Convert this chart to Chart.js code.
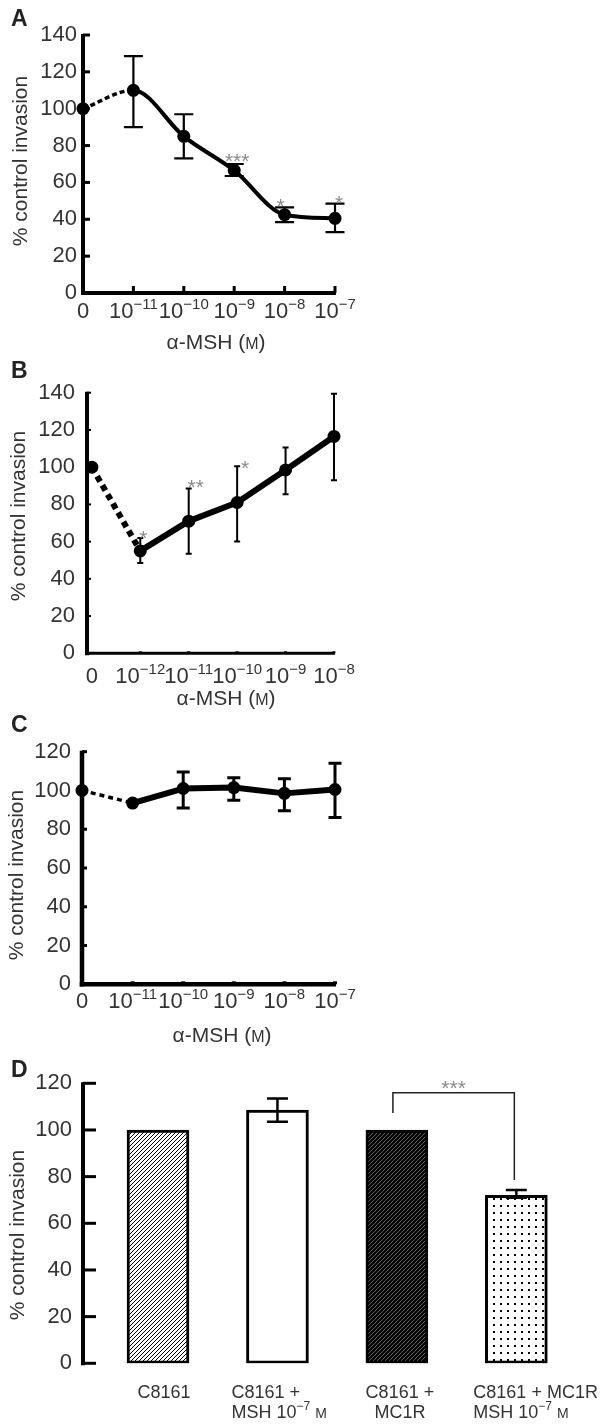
<!DOCTYPE html>
<html>
<head>
<meta charset="utf-8">
<script src="https://cdn.jsdelivr.net/npm/chart.js@4.4.1/dist/chart.umd.min.js"></script>
<style>
  body { margin: 0; background: #fff; }
  #wrap { position: relative; width: 600px; height: 1424px; }
  canvas { position: absolute; left: 0; }
</style>
</head>
<body>
<div id="wrap">
  <canvas id="chartA" width="600" height="355" style="top:0"></canvas>
  <canvas id="chartB" width="600" height="357" style="top:355px"></canvas>
  <canvas id="chartC" width="600" height="336" style="top:712px"></canvas>
  <canvas id="chartD" width="600" height="376" style="top:1048px"></canvas>
</div>
<script>
// ---- data ----
// A : alpha-MSH dose response
const xLabelsA = ['0', '10^-11', '10^-10', '10^-9', '10^-8', '10^-7'];
const xPosA = [0, 1, 2, 3, 4, 5];
const valuesA = [100, 110, 85, 66.5, 42.5, 40.5];
const errHiA = [null, 128.5, 97, 70, 46.5, 48.5];
const errLoA = [null, 90, 73, 63.5, 38.5, 33];
const starsA = ['', '', '', '***', '*', '*'];

// B
const xLabelsB = ['0', '10^-12', '10^-11', '10^-10', '10^-9', '10^-8'];
const xPosB = [0, 1, 2, 3, 4, 5];
const valuesB = [100, 55, 71, 81, 98.5, 116.5];
const errHiB = [null, 62, 88.5, 100.5, 110.5, 139.5];
const errLoB = [null, 48.5, 53.5, 60, 85.5, 93];
const starsB = ['', '*', '**', '*', '', ''];

// C
const xLabelsC = ['0', '10^-11', '10^-10', '10^-9', '10^-8', '10^-7'];
const xPosC = [0, 1, 2, 3, 4, 5];
const valuesC = [100, 93.5, 101, 101.5, 98.5, 100.5];
const errHiC = [null, null, 109.5, 106.5, 106, 114];
const errLoC = [null, null, 91, 95, 89.5, 86];
const starsC = ['', '', '', '', '', ''];

// D : bars
const groupsD = [['C8161'], ['C8161 +', 'MSH 10^-7 {M}'], ['C8161 +', 'MC1R'], ['C8161 + MC1R', 'MSH 10^-7 {M}']];
const valuesD = [100, 108.5, 100, 72];
const errHiD = [null, 113.5, null, 74.3];
const errLoD = [null, 103.5, null, 71];
const bracketD = { from: 2, to: 3, top: 116, leftEnd: 107.3, rightEnd: 78.6, label: '***' };

const FONT = '"Liberation Sans", Arial, Helvetica, sans-serif';
const TXT = '#333';
const STAR = '#8a8a8a';
const TICK = 22;

// text with "^-11" superscripts and "{M}" small capital
function richText(ctx, text, x, y, size, align) {
  const parts = [];
  const re = /\^(-?\d+)|\{(M)\}/g;
  let last = 0, m;
  while ((m = re.exec(text))) {
    if (m.index > last) parts.push({ t: text.slice(last, m.index), s: size, dy: 0 });
    if (m[1]) parts.push({ t: m[1].replace('-', '\u2212'), s: Math.round(size * 0.68), dy: -size * 0.42 });
    else parts.push({ t: 'M', s: Math.round(size * 0.78), dy: 0 });
    last = re.lastIndex;
  }
  if (last < text.length) parts.push({ t: text.slice(last), s: size, dy: 0 });
  let w = 0;
  parts.forEach(p => { ctx.font = p.s + 'px ' + FONT; p.w = ctx.measureText(p.t).width; w += p.w; });
  let cx = align === 'left' ? x : (align === 'right' ? x - w : x - w / 2);
  ctx.textAlign = 'left';
  ctx.textBaseline = 'alphabetic';
  parts.forEach(p => { ctx.font = p.s + 'px ' + FONT; ctx.fillText(p.t, cx, y + p.dy); cx += p.w; });
  return w;
}

function drawStar(ctx, txt, x, y) {
  const size = 21;
  ctx.font = size + 'px ' + FONT;
  ctx.fillStyle = STAR;
  ctx.textAlign = 'center';
  ctx.textBaseline = 'alphabetic';
  ctx.fillText(txt, x, y + size * 0.58);
}

function yTitle(ctx, x, y) {
  ctx.save();
  ctx.translate(x, y);
  ctx.rotate(-Math.PI / 2);
  ctx.font = '21px ' + FONT;
  ctx.fillStyle = TXT;
  ctx.textAlign = 'center';
  ctx.textBaseline = 'middle';
  ctx.fillText('% control invasion', 0, 0);
  ctx.restore();
}

function letter(ctx, l, top) {
  ctx.font = 'bold 23px ' + FONT;
  ctx.fillStyle = '#222';
  ctx.textAlign = 'left';
  ctx.textBaseline = 'top';
  ctx.fillText(l, 11, top);
}

function yAxis(chart, o) {
  const { ctx, chartArea: a } = chart;
  const ys = chart.scales.y;
  ctx.strokeStyle = '#000';
  ctx.lineCap = 'butt';
  ctx.lineWidth = o.axisW;
  ctx.beginPath();
  ctx.moveTo(a.left, ys.getPixelForValue(ys.max) - 1);
  ctx.lineTo(a.left, a.bottom + o.axisW / 2);
  ctx.stroke();
  ctx.lineWidth = o.yTickW;
  ys.ticks.forEach(t => {
    const py = ys.getPixelForValue(t.value);
    ctx.beginPath();
    ctx.moveTo(a.left, py);
    ctx.lineTo(a.left + o.yTickLen, py);
    ctx.stroke();
  });
}

function errorBars(chart, xv, hi, lo, cap, w) {
  const { ctx } = chart;
  const xs = chart.scales.x, ys = chart.scales.y;
  ctx.strokeStyle = '#000';
  ctx.lineWidth = w;
  hi.forEach((h, i) => {
    if (h == null) return;
    const px = xs.getPixelForValue(xv[i]);
    const yt = ys.getPixelForValue(h), yb = ys.getPixelForValue(lo[i]);
    ctx.beginPath();
    ctx.moveTo(px, yt); ctx.lineTo(px, yb);
    ctx.moveTo(px - cap, yt); ctx.lineTo(px + cap, yt);
    ctx.moveTo(px - cap, yb); ctx.lineTo(px + cap, yb);
    ctx.stroke();
  });
}

function linePanel(id, o) {
  const plugin = {
    id: 'deco' + o.letter,
    beforeDatasetsDraw(chart) {
      const { ctx, chartArea: a } = chart;
      const xs = chart.scales.x;
      ctx.save();
      yAxis(chart, o);
      // x axis with inward ticks
      ctx.lineWidth = o.xAxisW;
      ctx.beginPath();
      ctx.moveTo(a.left - o.axisW / 2, a.bottom);
      ctx.lineTo(xs.getPixelForValue(xs.max) + 1, a.bottom);
      ctx.stroke();
      ctx.lineWidth = o.xTickW;
      o.x.forEach((v, i) => {
        if (i === 0) return;
        const px = xs.getPixelForValue(v);
        ctx.beginPath();
        ctx.moveTo(px, a.bottom);
        ctx.lineTo(px, a.bottom - o.xTickLen);
        ctx.stroke();
      });
      errorBars(chart, o.x, o.hi, o.lo, o.cap, o.errW);
      ctx.restore();
    },
    afterDraw(chart) {
      const { ctx } = chart;
      const xs = chart.scales.x, ys = chart.scales.y;
      ctx.save();
      o.labels.forEach((l, i) => {
        ctx.fillStyle = TXT;
        richText(ctx, l, xs.getPixelForValue(o.x[i]), o.labelBase, TICK, 'center');
      });
      ctx.fillStyle = TXT;
      richText(ctx, '\u03b1-MSH ({M})', o.titleX, o.titleBase, 21, 'center');
      yTitle(ctx, o.yTitleX, o.yTitleY);
      letter(ctx, o.letter, o.letterTop);
      o.stars.forEach((s, i) => {
        if (!s) return;
        const top = o.hi[i] != null ? o.hi[i] : o.values[i];
        drawStar(ctx, s, xs.getPixelForValue(o.x[i]) + o.starDx[i], ys.getPixelForValue(top) + o.starDy[i]);
      });
      ctx.restore();
    }
  };
  return new Chart(document.getElementById(id), {
    type: 'line',
    data: {
      datasets: [{
        data: o.x.map((x, i) => ({ x: x, y: o.values[i] })),
        borderColor: '#000',
        borderWidth: o.lineW,
        borderJoinStyle: 'round',
        pointRadius: o.r,
        pointBackgroundColor: '#000',
        pointBorderWidth: 0,
        pointHoverRadius: o.r,
        cubicInterpolationMode: o.smooth ? 'monotone' : 'default',
        tension: o.smooth ? 0.4 : 0,
        clip: false,
        segment: {
          borderDash: c => c.p0DataIndex === 0 ? o.dash : [],
          borderWidth: c => c.p0DataIndex === 0 ? o.dashW : o.lineW
        }
      }]
    },
    options: {
      responsive: false,
      animation: false,
      events: [],
      layout: { padding: { left: 0, top: o.area.top, right: 600 - o.area.right, bottom: o.h - o.area.bottom } },
      plugins: { legend: { display: false }, tooltip: { enabled: false } },
      scales: {
        x: { type: 'linear', display: false, min: o.xMin, max: o.xMax },
        y: {
          min: 0, max: o.yMax,
          afterFit: s => { s.width = o.area.left; },
          ticks: { stepSize: 20, padding: o.tickPad, color: TXT, font: { family: FONT, size: TICK } },
          grid: { display: false, drawTicks: false },
          border: { display: false }
        }
      }
    },
    plugins: [plugin]
  });
}

linePanel('chartA', {
  letter: 'A', letterTop: 8, h: 355,
  area: { left: 83, right: 335, top: 35, bottom: 293 },
  x: xPosA, labels: xLabelsA, values: valuesA, hi: errHiA, lo: errLoA, stars: starsA,
  starDx: [0, 0, 0, 3, -4, 4], starDy: [0, 0, 0, -8, -6, -6],
  xMin: 0, xMax: 5, yMax: 140, tickPad: 6,
  axisW: 4, xAxisW: 4, yTickLen: 7, yTickW: 3, xTickLen: 7, xTickW: 3,
  lineW: 4, dashW: 3.5, dash: [5, 3], r: 6.5, smooth: true,
  cap: 9.5, errW: 2.2,
  labelBase: 318, titleX: 216, titleBase: 349, yTitleX: 21, yTitleY: 161
});

linePanel('chartB', {
  letter: 'B', letterTop: 5, h: 357,
  area: { left: 87, right: 334, top: 37.7, bottom: 298.3 },
  x: xPosB, labels: xLabelsB, values: valuesB, hi: errHiB, lo: errLoB, stars: starsB,
  starDx: [0, 3, 7, 8, 0, 0], starDy: [0, -5, -7, -3, 0, 0],
  xMin: -0.1, xMax: 5, yMax: 140, tickPad: 12,
  axisW: 4, xAxisW: 3, yTickLen: 4, yTickW: 2, xTickLen: 2, xTickW: 3,
  lineW: 6, dashW: 6, dash: [6, 4.5], r: 6.5, smooth: false,
  cap: 3, errW: 2,
  labelBase: 328, titleX: 226, titleBase: 350, yTitleX: 19.5, yTitleY: 161
});

linePanel('chartC', {
  letter: 'C', letterTop: 2, h: 336,
  area: { left: 82, right: 335, top: 39.7, bottom: 272.3 },
  x: xPosC, labels: xLabelsC, values: valuesC, hi: errHiC, lo: errLoC, stars: starsC,
  starDx: [0, 0, 0, 0, 0, 0], starDy: [0, 0, 0, 0, 0, 0],
  xMin: 0, xMax: 5, yMax: 120, tickPad: 11,
  axisW: 4.5, xAxisW: 4.5, yTickLen: 5, yTickW: 3, xTickLen: 3, xTickW: 4,
  lineW: 6, dashW: 3.5, dash: [5, 4], r: 6.5, smooth: false,
  cap: 6.5, errW: 3,
  labelBase: 296, titleX: 222, titleBase: 330, yTitleX: 17.5, yTitleY: 163
});

// ---- panel D : bars ----
const canvasD = document.getElementById('chartD');
const ctxD = canvasD.getContext('2d');

function hatch(gap, lw) {
  const c = document.createElement('canvas');
  c.width = c.height = gap;
  const g = c.getContext('2d');
  g.fillStyle = '#fff';
  g.fillRect(0, 0, gap, gap);
  g.strokeStyle = '#000';
  g.lineWidth = lw;
  g.beginPath();
  g.moveTo(-1, gap + 1); g.lineTo(gap + 1, -1);
  g.moveTo(-1, 1); g.lineTo(1, -1);
  g.moveTo(gap - 1, gap + 1); g.lineTo(gap + 1, gap - 1);
  g.stroke();
  return ctxD.createPattern(c, 'repeat');
}

function dots(step, size) {
  const c = document.createElement('canvas');
  c.width = c.height = step;
  const g = c.getContext('2d');
  g.fillStyle = '#fff';
  g.fillRect(0, 0, step, step);
  g.fillStyle = '#000';
  g.fillRect(Math.floor(step / 2), Math.floor(step / 2), size, size);
  return ctxD.createPattern(c, 'repeat');
}

const fillsD = [hatch(4, 1), '#fff', hatch(4, 2.6), dots(7, 2)];
const labelAlignD = ['center', 'left', 'center', 'left'];
const labelDxD = [6, -46, 3, -43];

const decoD = {
  id: 'decoD',
  afterDatasetsDraw(chart) {
    const { ctx } = chart;
    const xs = chart.scales.x, ys = chart.scales.y;
    ctx.save();
    yAxis(chart, { axisW: 4, yTickLen: 13, yTickW: 3 });
    errorBars(chart, [0, 1, 2, 3], errHiD, errLoD, 10.5, 2.5);
    // significance bracket
    const xl = xs.getPixelForValue(bracketD.from) - 4;
    const xr = xs.getPixelForValue(bracketD.to) - 2;
    const yt = ys.getPixelForValue(bracketD.top);
    ctx.strokeStyle = '#222';
    ctx.lineWidth = 1.5;
    ctx.beginPath();
    ctx.moveTo(xl, ys.getPixelForValue(bracketD.leftEnd));
    ctx.lineTo(xl, yt);
    ctx.lineTo(xr, yt);
    ctx.lineTo(xr, ys.getPixelForValue(bracketD.rightEnd));
    ctx.stroke();
    drawStar(ctx, bracketD.label, (xl + xr) / 2, yt - 10);
    // category labels
    groupsD.forEach((lines, i) => {
      const cx = xs.getPixelForValue(i) + labelDxD[i];
      lines.forEach((l, j) => {
        ctx.fillStyle = TXT;
        richText(ctx, l, cx, 350 + j * 20, 18, labelAlignD[i]);
      });
    });
    yTitle(ctx, 18.5, 187);
    letter(ctx, 'D', 11);
    ctx.restore();
  }
};

new Chart(canvasD, {
  type: 'bar',
  data: {
    datasets: [{
      data: valuesD.map((v, i) => ({ x: i, y: v })),
      backgroundColor: fillsD,
      borderColor: '#000',
      borderWidth: 3,
      borderSkipped: false,
      barThickness: 62
    }]
  },
  options: {
    responsive: false,
    animation: false,
    events: [],
    layout: { padding: { left: 0, top: 35.3, right: 12, bottom: 376 - 315.3 } },
    plugins: { legend: { display: false }, tooltip: { enabled: false } },
    scales: {
      x: { type: 'linear', display: false, offset: false, min: -0.628, max: 3.6 },
      y: {
        min: 0, max: 120,
        afterFit: s => { s.width = 83; },
        ticks: { stepSize: 20, padding: 11, color: TXT, font: { family: FONT, size: TICK } },
        grid: { display: false, drawTicks: false },
        border: { display: false }
      }
    }
  },
  plugins: [decoD]
});
</script>
</body>
</html>
